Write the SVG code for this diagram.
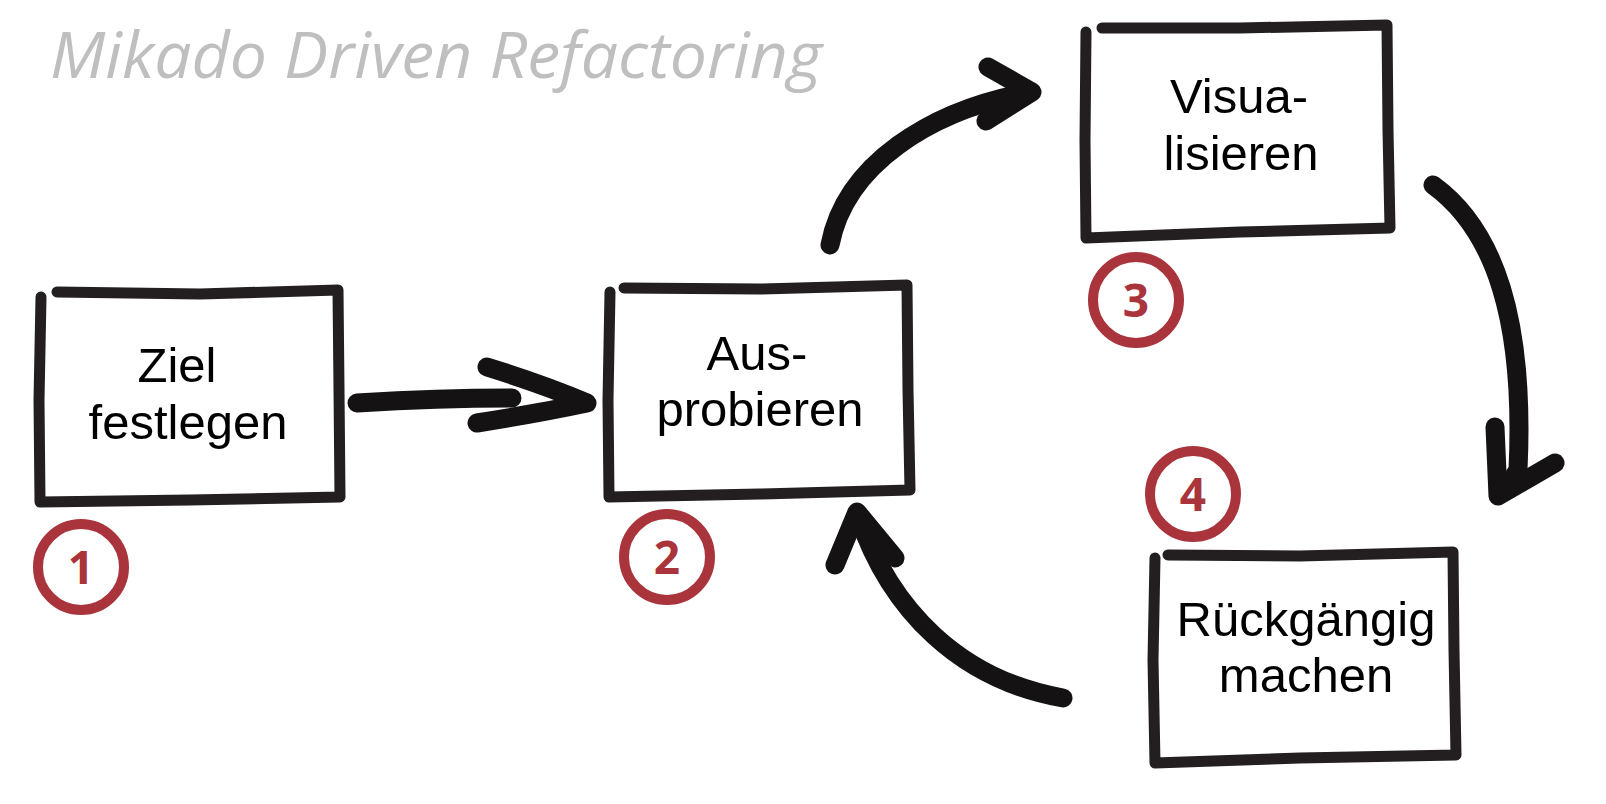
<svg xmlns="http://www.w3.org/2000/svg" width="1606" height="804" viewBox="0 0 1606 804">
<style>
.box{fill:none;stroke:#231f20;stroke-width:11;stroke-linecap:round;stroke-linejoin:round}
.lbl{font-family:"Liberation Sans","Noto Sans",sans-serif;font-size:49px;fill:#000;text-anchor:middle}
.ring{fill:none;stroke:#a9343b;stroke-width:10}
.num{font-family:"Open Sans","Liberation Sans",sans-serif;font-weight:700;font-size:46px;fill:#a9343b;text-anchor:middle}
.arr{fill:none;stroke:#141213;stroke-width:19;stroke-linecap:round;stroke-linejoin:round}
.title{font-family:"Open Sans","Liberation Sans",sans-serif;font-style:italic;font-weight:400;font-size:64px;fill:#bfbfbf}
</style>
<rect width="1606" height="804" fill="#ffffff"/>
<text class="title" x="50" y="78" textLength="772" lengthAdjust="spacingAndGlyphs">Mikado Driven Refactoring</text>

<g id="connectors">
  <path class="arr" d="M357,403 Q440,398 512,398"/>
  <path class="arr" d="M487,367 Q545,385 587,403 Q535,414 477,423"/>
  <path class="arr" d="M830,245 C845,165 930,110 1030,92"/>
  <path class="arr" d="M988,67 L1032,92 L986,121"/>
  <path class="arr" d="M1433,185 C1495,230 1525,320 1518,470 L1505,490"/>
  <path class="arr" d="M1495,427 L1498,496 L1555,463"/>
  <path class="arr" d="M1063,698 C960,680 890,610 858,515"/>
  <path class="arr" d="M835,565 L857,512 L895,558"/>
</g>

<g id="node1">
  <path class="box" d="M41,297 L39,400 L40,502 L190,500 L340,497 L339,390 L338,290 L200,294 L57,292"/>
  <text class="lbl" x="177" y="382">Ziel</text>
  <text class="lbl" x="188" y="439">festlegen</text>
  <circle class="ring" cx="81" cy="567" r="43"/>
  <text class="num" x="81" y="584">1</text>
</g>

<g id="node2">
  <path class="box" d="M610,292 L608,400 L609,497 L760,494 L910,490 L908,390 L907,285 L760,289 L624,288"/>
  <text class="lbl" x="757" y="370">Aus-</text>
  <text class="lbl" x="760" y="426">probieren</text>
  <circle class="ring" cx="667" cy="557" r="43"/>
  <text class="num" x="667" y="574">2</text>
</g>

<g id="node3">
  <path class="box" d="M1086,32 L1085,140 L1086,238 L1240,232 L1390,228 L1388,130 L1387,25 L1240,28 L1102,28"/>
  <text class="lbl" x="1239" y="113">Visua-</text>
  <text class="lbl" x="1241" y="170">lisieren</text>
  <circle class="ring" cx="1136" cy="300" r="43"/>
  <text class="num" x="1136" y="317">3</text>
</g>

<g id="node4">
  <path class="box" d="M1155,558 L1153,660 L1155,763 L1300,758 L1456,755 L1454,650 L1453,552 L1300,556 L1168,555"/>
  <text class="lbl" x="1306" y="636">Rückgängig</text>
  <text class="lbl" x="1306" y="692">machen</text>
  <circle class="ring" cx="1193" cy="494" r="43"/>
  <text class="num" x="1193" y="511">4</text>
</g>
</svg>
